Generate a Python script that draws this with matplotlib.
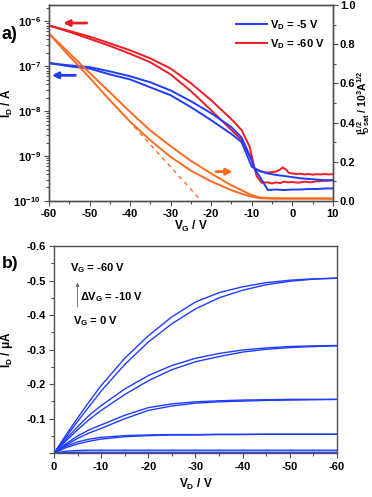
import math
import matplotlib
matplotlib.use('Agg')
from matplotlib import pyplot as plt
from matplotlib.ticker import MultipleLocator, FuncFormatter, LogLocator, NullFormatter

plt.rcParams['font.family'] = 'Liberation Sans'
plt.rcParams['font.weight'] = 'bold'
plt.rcParams['axes.unicode_minus'] = False
plt.rcParams['mathtext.fontset'] = 'custom'
plt.rcParams['mathtext.rm'] = 'Liberation Sans:bold'
plt.rcParams['mathtext.it'] = 'Liberation Sans:bold'
plt.rcParams['mathtext.bf'] = 'Liberation Sans:bold'

# ---- a) transfer curves (I_D, log) ----
vg_r1 = [-60, -55, -50, -45, -40, -35, -30, -25, -20, -15, -12.5, -10.5, -9.3, -8.8, -7.6, -6, -5, -4, -3, -2, -1, 0, 1.5, 3, 4.5, 6, 7.5, 9, 10]
id_r1 = [8.1e-7, 6.15e-7, 4.6e-7, 3.25e-7, 2.27e-7, 1.5e-7, 8.9e-8, 4.2e-8, 1.75e-8, 6.6e-9, 3.8e-9, 1.6e-9, 5.3e-10, 3.6e-10, 2.55e-10,
         2.6e-10, 2.45e-10, 2.6e-10, 2.5e-10, 2.7e-10, 2.6e-10, 2.65e-10, 2.55e-10, 2.7e-10, 2.6e-10, 2.75e-10, 2.8e-10, 2.85e-10, 2.9e-10]
vg_r2 = [-60, -55, -50, -45, -40, -35, -30, -25, -20, -15, -12.5, -10, -9.3, -8, -6.5, -5, -4, -3, -2.4, -1.5, -0.8, 0, 1, 2, 3, 4, 5, 6, 7, 8, 9, 10]
id_r2 = [8.1e-7, 5.85e-7, 4.1e-7, 2.85e-7, 1.9e-7, 1.23e-7, 6.6e-8, 2.8e-8, 1.05e-8, 3.8e-9, 2.3e-9, 8.1e-10, 5.3e-10, 4.6e-10, 4.3e-10,
         4.4e-10, 4.5e-10, 5.0e-10, 5.6e-10, 5.0e-10, 4.2e-10, 4.1e-10, 4.0e-10, 4.05e-10, 3.9e-10, 4.0e-10, 3.85e-10, 3.95e-10, 3.9e-10, 4.0e-10, 3.9e-10, 3.95e-10]
vg_b1 = [-60, -55, -50, -45, -40, -35, -30, -25, -20, -15, -12.5, -10, -9.3, -6, -4, -2, 0, 2, 4, 6, 8, 10]
id_b1 = [1.18e-7, 1.05e-7, 9.6e-8, 7.7e-8, 6.0e-8, 4.4e-8, 2.9e-8, 1.67e-8, 9.0e-9, 4.4e-9, 2.6e-9, 8.1e-10, 5.3e-10,
         1.75e-10, 1.8e-10, 1.75e-10, 1.8e-10, 1.8e-10, 1.85e-10, 1.85e-10, 1.9e-10, 1.9e-10]
vg_b2 = [-60, -55, -50, -45, -40, -35, -30, -25, -20, -15, -12.5, -10, -9.3, -7.5, -6, -4, -2, 0, 2, 4, 6, 8, 10]
id_b2 = [1.18e-7, 1.0e-7, 8.9e-8, 6.6e-8, 5.1e-8, 3.4e-8, 2.27e-8, 1.23e-8, 6.3e-9, 3.1e-9, 2.05e-9, 5.8e-10, 5.3e-10,
         4.5e-10, 4.1e-10, 3.8e-10, 3.6e-10, 3.4e-10, 3.2e-10, 3.1e-10, 3.0e-10, 2.9e-10, 2.9e-10]

# sqrt(I_D sat), right axis
vg_sq = [-60, -55, -50, -45, -40, -35, -30, -25, -20, -15, -12.5, -10, -8, -5, 0, 5, 10]
sq_up = [0.855, 0.755, 0.655, 0.555, 0.455, 0.36, 0.28, 0.205, 0.14, 0.08, 0.055, 0.03, 0.018, 0.014, 0.013, 0.013, 0.013]
sq_lo = [0.855, 0.74, 0.63, 0.515, 0.405, 0.31, 0.225, 0.155, 0.1, 0.055, 0.037, 0.022, 0.014, 0.012, 0.012, 0.012, 0.012]
fit_vg = [-39, -22.4]
fit_sq = [0.38, 0.0]

# ---- b) output curves ----
vd = [0, -2.5, -5, -7.5, -10, -15, -20, -25, -30, -35, -40, -45, -50, -55, -60]
out_curves = [
    [0, -0.052, -0.102, -0.15, -0.196, -0.275, -0.34, -0.395, -0.438, -0.465, -0.482, -0.494, -0.501, -0.505, -0.507],
    [0, -0.046, -0.092, -0.136, -0.18, -0.257, -0.322, -0.375, -0.418, -0.45, -0.472, -0.488, -0.498, -0.504, -0.507],
    [0, -0.04, -0.077, -0.11, -0.138, -0.186, -0.225, -0.254, -0.275, -0.289, -0.299, -0.305, -0.309, -0.311, -0.312],
    [0, -0.035, -0.068, -0.098, -0.124, -0.17, -0.21, -0.242, -0.265, -0.28, -0.293, -0.301, -0.306, -0.309, -0.311],
    [0, -0.027, -0.05, -0.068, -0.082, -0.11, -0.132, -0.143, -0.149, -0.152, -0.154, -0.155, -0.156, -0.156, -0.156],
    [0, -0.023, -0.043, -0.059, -0.072, -0.1, -0.124, -0.137, -0.145, -0.149, -0.151, -0.153, -0.154, -0.155, -0.156],
    [0, -0.02, -0.033, -0.041, -0.046, -0.051, -0.053, -0.054, -0.054, -0.055, -0.055, -0.055, -0.055, -0.055, -0.055],
    [0, -0.016, -0.027, -0.035, -0.041, -0.048, -0.051, -0.053, -0.053, -0.054, -0.054, -0.055, -0.055, -0.055, -0.055],
    [0, -0.006, -0.008, -0.009, -0.009, -0.009, -0.009, -0.009, -0.009, -0.009, -0.009, -0.009, -0.009, -0.009, -0.009],
    [0, -0.002, -0.003, -0.003, -0.003, -0.003, -0.003, -0.003, -0.003, -0.003, -0.003, -0.003, -0.003, -0.003, -0.003],
]

blue = '#1f3cff'
red = '#f01c24'
orange = '#ff6a1e'
spine_c = '#505050'
fs = 8

fig = plt.figure(figsize=(3.72, 4.97), dpi=100)
ax1 = fig.add_axes([0.1317, 0.5956, 0.763, 0.394])
ax2 = ax1.twinx()
ax3 = fig.add_axes([0.145, 0.088, 0.761, 0.417])

def style(ax):
    for s in ax.spines.values():
        s.set_color(spine_c)
        s.set_linewidth(1.0)
    ax.tick_params(which='both', direction='out', color=spine_c, labelsize=fs, width=0.8, pad=2.5)
    ax.tick_params(which='major', length=3.5)
    ax.tick_params(which='minor', length=2)

ax1.plot(vg_r1, id_r1, color=red, lw=1.4)
ax1.plot(vg_r2, id_r2, color=red, lw=1.4)
ax1.plot(vg_b1, id_b1, color=blue, lw=1.4, label='V$_\\mathregular{D}$ = -5 V')
ax1.plot(vg_b2, id_b2, color=blue, lw=1.4)
ax1.plot([], [], color=red, lw=1.4, label='V$_\\mathregular{D}$ = -60 V')
ax1.set_yscale('log')
ax1.set_ylim(1e-10, 2.3e-6)
ax1.set_xlim(-60, 10)
ax1.xaxis.set_major_locator(MultipleLocator(10))
ax1.xaxis.set_minor_locator(MultipleLocator(5))
ax1.yaxis.set_major_locator(LogLocator(base=10, numticks=10))
ax1.yaxis.set_minor_locator(LogLocator(base=10, subs=range(2, 10), numticks=50))
ax1.yaxis.set_minor_formatter(NullFormatter())
ax1.yaxis.set_major_formatter(FuncFormatter(lambda v, p: '10$^{%d}$' % round(math.log10(v))))
ax1.set_xlabel('V$_\\mathregular{G}$ / V', fontsize=fs + 0.5, fontweight='bold', labelpad=0)
ax1.set_ylabel('I$_\\mathregular{D}$ / A', fontsize=fs + 0.5, fontweight='bold')
ax1.yaxis.set_label_coords(-0.118, 0.5)
style(ax1)
ax1.legend(loc='upper right', bbox_to_anchor=(1.0, 0.975), frameon=False, handlelength=2.8,
           handletextpad=0.3, borderaxespad=0.3, labelspacing=0.5, prop={'weight': 'bold', 'size': fs})

ax2.plot(vg_sq, sq_up, color=orange, lw=1.4)
ax2.plot(vg_sq, sq_lo, color=orange, lw=1.4)
ax2.plot(fit_vg, fit_sq, color=orange, lw=1.0, linestyle=(0, (3, 3)))
ax2.set_ylim(0, 1.0)
ax2.yaxis.set_major_locator(MultipleLocator(0.2))
ax2.yaxis.set_minor_locator(MultipleLocator(0.1))
ax2.yaxis.set_major_formatter(FuncFormatter(lambda v, p: '%.1f' % v))
ax2.tick_params(axis='y', pad=1.5)
ax2.set_ylabel('I$_\\mathregular{D\\,sat}^{1/2}$ / 10$^\\mathregular{3}$A$^\\mathregular{1/2}$',
               fontsize=7.5, fontweight='bold')
ax2.yaxis.set_label_coords(1.079, 0.5)
style(ax2)
ax2.tick_params(axis='y', pad=1.5)

arr = dict(arrowstyle='-|>', lw=2.0, mutation_scale=9)
ax1.annotate('', xy=(-57.2, 9.2e-7), xytext=(-50, 9.2e-7), arrowprops=dict(arr, color=red))
ax1.annotate('', xy=(-60, 6.3e-8), xytext=(-52.8, 6.3e-8), arrowprops=dict(arr, color=blue))
ax2.annotate('', xy=(-14, 0.15), xytext=(-19.5, 0.15), arrowprops=dict(arr, color=orange))

# b)
for cur in out_curves:
    ax3.plot(vd, cur, color=blue, lw=1.0)
ax3.set_xlim(0, -60)
ax3.set_ylim(0, -0.6)
ax3.xaxis.set_major_locator(MultipleLocator(10))
ax3.xaxis.set_minor_locator(MultipleLocator(5))
ax3.yaxis.set_major_locator(MultipleLocator(0.1))
ax3.yaxis.set_minor_locator(MultipleLocator(0.05))
ax3.yaxis.set_major_formatter(FuncFormatter(lambda v, p: '' if abs(v) < 1e-9 else '%.1f' % v))
ax3.xaxis.set_major_formatter(FuncFormatter(lambda v, p: '%d' % round(v)))
ax3.set_xlabel('V$_\\mathregular{D}$ / V', fontsize=fs + 0.5, fontweight='bold', labelpad=4)
ax3.set_ylabel('I$_\\mathregular{D}$ / \u03bcA', fontsize=fs + 0.5, fontweight='bold')
ax3.yaxis.set_label_coords(-0.138, 0.5)
style(ax3)

ax3.text(-3.5, -0.535, 'V$_\\mathregular{G}$ = -60 V', fontsize=fs, fontweight='bold', va='center')
ax3.text(-5.6, -0.453, '\u0394V$_\\mathregular{G}$ = -10 V', fontsize=fs, fontweight='bold', va='center')
ax3.text(-4.0, -0.382, 'V$_\\mathregular{G}$ = 0 V', fontsize=fs, fontweight='bold', va='center')
ax3.annotate('', xy=(-5, -0.502), xytext=(-5, -0.415),
             arrowprops=dict(arrowstyle='-|>', lw=0.6, color='#606060', mutation_scale=5))

fig.text(0.005, 0.93, 'a)', fontsize=13, fontweight='bold', va='center')
fig.text(0.005, 0.47, 'b)', fontsize=12.5, fontweight='bold', va='center')

plt.savefig('out.png', dpi=100)
